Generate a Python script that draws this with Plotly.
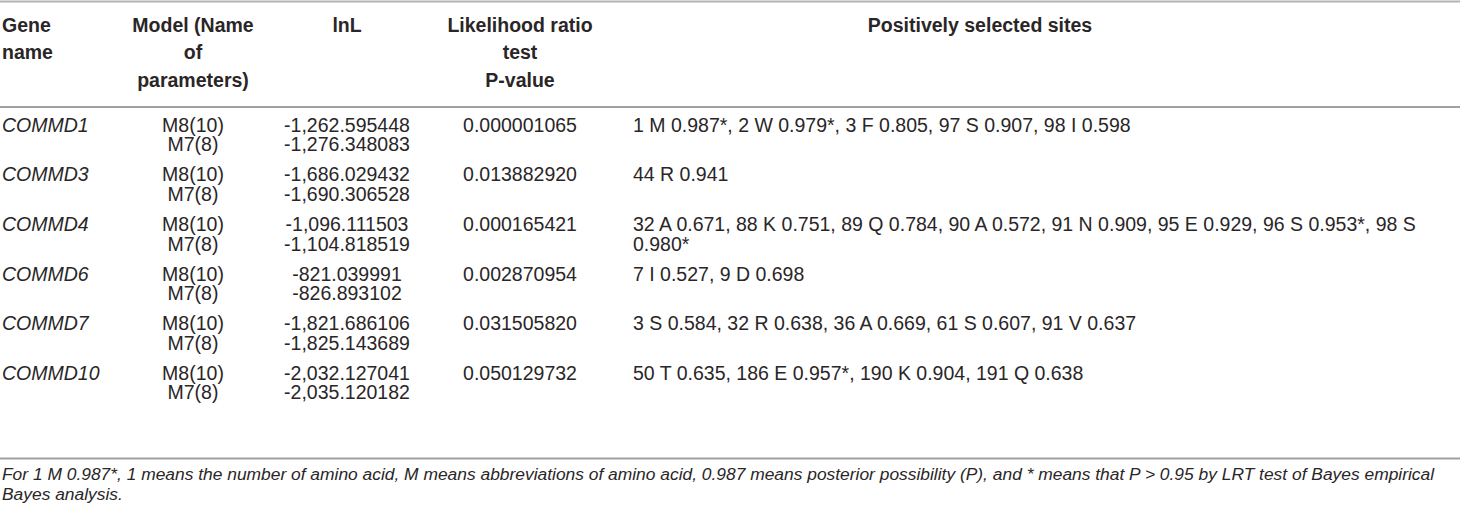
import textwrap
import plotly.graph_objects as go

# table content
header_gene = ["Gene", "name"]
header_model = ["Model (Name", "of", "parameters)"]
header_lnl = ["lnL"]
header_lrt = ["Likelihood ratio", "test", "P-value"]
header_sites = ["Positively selected sites"]

genes = ["COMMD1", "COMMD3", "COMMD4", "COMMD6", "COMMD7", "COMMD10"]
models = ["M8(10)", "M7(8)"]
lnl_m8 = ["-1,262.595448", "-1,686.029432", "-1,096.111503", "-821.039991", "-1,821.686106", "-2,032.127041"]
lnl_m7 = ["-1,276.348083", "-1,690.306528", "-1,104.818519", "-826.893102", "-1,825.143689", "-2,035.120182"]
p_values = ["0.000001065", "0.013882920", "0.000165421", "0.002870954", "0.031505820", "0.050129732"]
sites = [
    "1 M 0.987*, 2 W 0.979*, 3 F 0.805, 97 S 0.907, 98 I 0.598",
    "44 R 0.941",
    "32 A 0.671, 88 K 0.751, 89 Q 0.784, 90 A 0.572, 91 N 0.909, 95 E 0.929, 96 S 0.953*, 98 S 0.980*",
    "7 I 0.527, 9 D 0.698",
    "3 S 0.584, 32 R 0.638, 36 A 0.669, 61 S 0.607, 91 V 0.637",
    "50 T 0.635, 186 E 0.957*, 190 K 0.904, 191 Q 0.638",
]
footnote = ("For 1 M 0.987*, 1 means the number of amino acid, M means abbreviations of amino acid, "
            "0.987 means posterior possibility (P), and * means that P > 0.95 by LRT test of Bayes empirical "
            "Bayes analysis.")

FONT = "Liberation Sans, Arial, sans-serif"
SIZE = 19.5
FOOT_SIZE = 17.4
COLOR = "#2a2627"

# layout grid (pixels)
W, H = 1460, 514
x_gene, x_model, x_lnl, x_lrt, x_sites, x_sites_head = 2, 193, 347, 520, 633, 980
head_y0, head_dy = 27, 27.5
row_y0, row_dy, sub_dy = 127, 49.6, 19.5

fig = go.Figure()


def add_text(xs, ys, texts, pos, italic=False, bold=False, size=SIZE):
    fig.add_trace(go.Scatter(
        x=xs, y=ys, text=texts, mode="text", textposition=pos, cliponaxis=False,
        textfont=dict(family=FONT, size=size, color=COLOR,
                      style="italic" if italic else "normal",
                      weight="bold" if bold else "normal"),
        hoverinfo="skip", showlegend=False))


# header
for lines, x, pos in [(header_gene, x_gene, "middle right"),
                      (header_model, x_model, "middle center"),
                      (header_lnl, x_lnl, "middle center"),
                      (header_lrt, x_lrt, "middle center"),
                      (header_sites, x_sites_head, "middle center")]:
    add_text([x] * len(lines), [head_y0 + i * head_dy for i in range(len(lines))], lines, pos, bold=True)

# body
ys1 = [row_y0 + i * row_dy for i in range(len(genes))]
ys2 = [y + sub_dy for y in ys1]
add_text([x_gene] * len(genes), ys1, genes, "middle right", italic=True)
add_text([x_model] * len(genes), ys1, [models[0]] * len(genes), "middle center")
add_text([x_model] * len(genes), ys2, [models[1]] * len(genes), "middle center")
add_text([x_lnl] * len(genes), ys1, lnl_m8, "middle center")
add_text([x_lnl] * len(genes), ys2, lnl_m7, "middle center")
add_text([x_lrt] * len(genes), ys1, p_values, "middle center")

sx, sy, st = [], [], []
for y, s in zip(ys1, sites):
    for j, line in enumerate(textwrap.wrap(s, width=90)):
        sx.append(x_sites)
        sy.append(y + j * sub_dy)
        st.append(line)
add_text(sx, sy, st, "middle right")

# footnote
foot_lines = textwrap.wrap(footnote, width=183)
add_text([x_gene] * len(foot_lines), [476 + i * 20 for i in range(len(foot_lines))], foot_lines,
         "middle right", italic=True, size=FOOT_SIZE)

# rules
for y, c in [(1.5, "#b3b3b3"), (107, "#a0a0a0"), (458.5, "#a0a0a0")]:
    fig.add_shape(type="line", xref="x", yref="y", x0=0, x1=W, y0=y, y1=y,
                  line=dict(color=c, width=2))

fig.update_xaxes(range=[0, W], visible=False, fixedrange=True)
fig.update_yaxes(range=[H, 0], visible=False, fixedrange=True)
fig.update_layout(width=W, height=H, margin=dict(l=0, r=0, t=0, b=0),
                  plot_bgcolor="white", paper_bgcolor="white")

fig.write_html("out.html", config={"displayModeBar": False},
               post_script="document.body.style.margin='0';")
